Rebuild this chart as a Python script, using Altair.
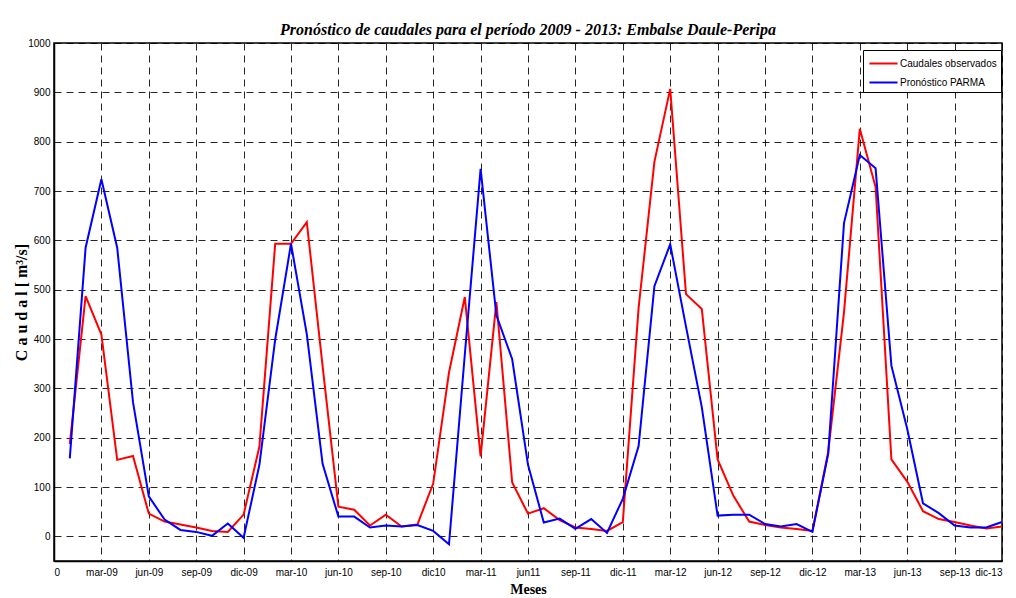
import altair as alt
import pandas as pd

# month index (1 = ene-09 ... 60 = dic-13)
months = list(range(1, 61))

observados = [187, 487, 409, 155, 163, 46, 30, 24, 18, 11, 9, 44,
              182, 593, 593, 637, 345, 60, 54, 22, 44, 20, 24, 107,
              332, 485, 162, 475, 109, 46, 57, 33, 18, 15, 11, 29,
              463, 759, 907, 491, 461, 156, 82, 30, 23, 18, 15, 11,
              171, 454, 826, 708, 156, 111, 51, 35, 29, 22, 16, 20]

parma = [158, 585, 724, 585, 272, 81, 34, 13, 9, 1, 26, -3,
         145, 399, 593, 410, 147, 40, 40, 18, 22, 20, 23, 11,
         -16, 368, 745, 448, 359, 145, 28, 36, 15, 35, 7, 76,
         183, 507, 592, 425, 262, 42, 44, 44, 25, 20, 25, 9,
         167, 635, 773, 746, 346, 218, 67, 47, 22, 18, 18, 29]

series_names = ["Caudales observados", "Pronóstico PARMA"]
series_colors = ["#ff0000", "#0000ff"]

x_tick_values = list(range(0, 61, 3))
x_tick_labels = ["0", "mar-09", "jun-09", "sep-09", "dic-09", "mar-10", "jun-10",
                 "sep-10", "dic10", "mar-11", "jun11", "sep-11", "dic-11",
                 "mar-12", "jun-12", "sep-12", "dic-12", "mar-13", "jun-13",
                 "sep-13", "dic-13"]
y_tick_values = list(range(0, 1001, 100))

df = pd.DataFrame({
    "mes": months * 2,
    "caudal": observados + parma,
    "serie": [series_names[0]] * len(months) + [series_names[1]] * len(months),
})

label_expr = "[" + ",".join("'" + s + "'" for s in x_tick_labels) + "][round(datum.value/3)]"

tick_font = "Liberation Sans"

chart = alt.Chart(df).mark_line(strokeWidth=2).encode(
    x=alt.X("mes:Q",
            scale=alt.Scale(domain=[0, 60], nice=False, zero=False),
            axis=alt.Axis(values=x_tick_values, labelExpr=label_expr,
                          title="Meses", titleFont="Liberation Serif",
                          titleFontWeight="bold", titleFontSize=14,
                          titlePadding=5, labelPadding=6)),
    y=alt.Y("caudal:Q",
            scale=alt.Scale(domain=[-50, 1000], nice=False, zero=False),
            axis=alt.Axis(values=y_tick_values, format="d",
                          title="C a u d a l  [ m³/s]",
                          titleFont="Liberation Serif", titleFontWeight="bold",
                          titleFontSize=16, titleX=-25, titleY=259,
                          labelPadding=4)),
    color=alt.Color("serie:N",
                    scale=alt.Scale(domain=series_names, range=series_colors),
                    legend=alt.Legend(title=None, orient="none", legendX=809, legendY=7,
                                      symbolType="M-1.65,0H1.65", symbolStrokeWidth=2,
                                      symbolSize=289, symbolOffset=7,
                                      symbolFillColor="transparent",
                                      labelFont=tick_font,
                                      labelFontSize=10, labelColor="black",
                                      strokeColor="black", fillColor="white",
                                      padding=4, rowPadding=4, labelOffset=7)),
    order=alt.Order("mes:Q"),
).properties(
    width=948, height=518,
    title=alt.TitleParams(
        "Pronóstico de caudales para el período 2009 - 2013: Embalse Daule-Peripa",
        font="Liberation Serif", fontStyle="italic", fontWeight="bold",
        fontSize=16, anchor="middle", offset=0, color="black"),
    autosize=alt.AutoSizeParams(type="none"),
    padding={"left": 54, "top": 43, "right": 14, "bottom": 37},
).configure(
    background="white",
).configure_view(
    stroke="black", strokeWidth=1.5,
).configure_axis(
    grid=True, gridColor="#000000", gridDash=[7, 5], gridWidth=1, gridOpacity=0.85,
    domain=True, domainColor="black", domainWidth=1.5,
    ticks=False, labelFont=tick_font, labelFontSize=10, labelColor="black",
    titleColor="black",
)

chart.save("out.html", embed_options={"renderer": "svg", "actions": False})
